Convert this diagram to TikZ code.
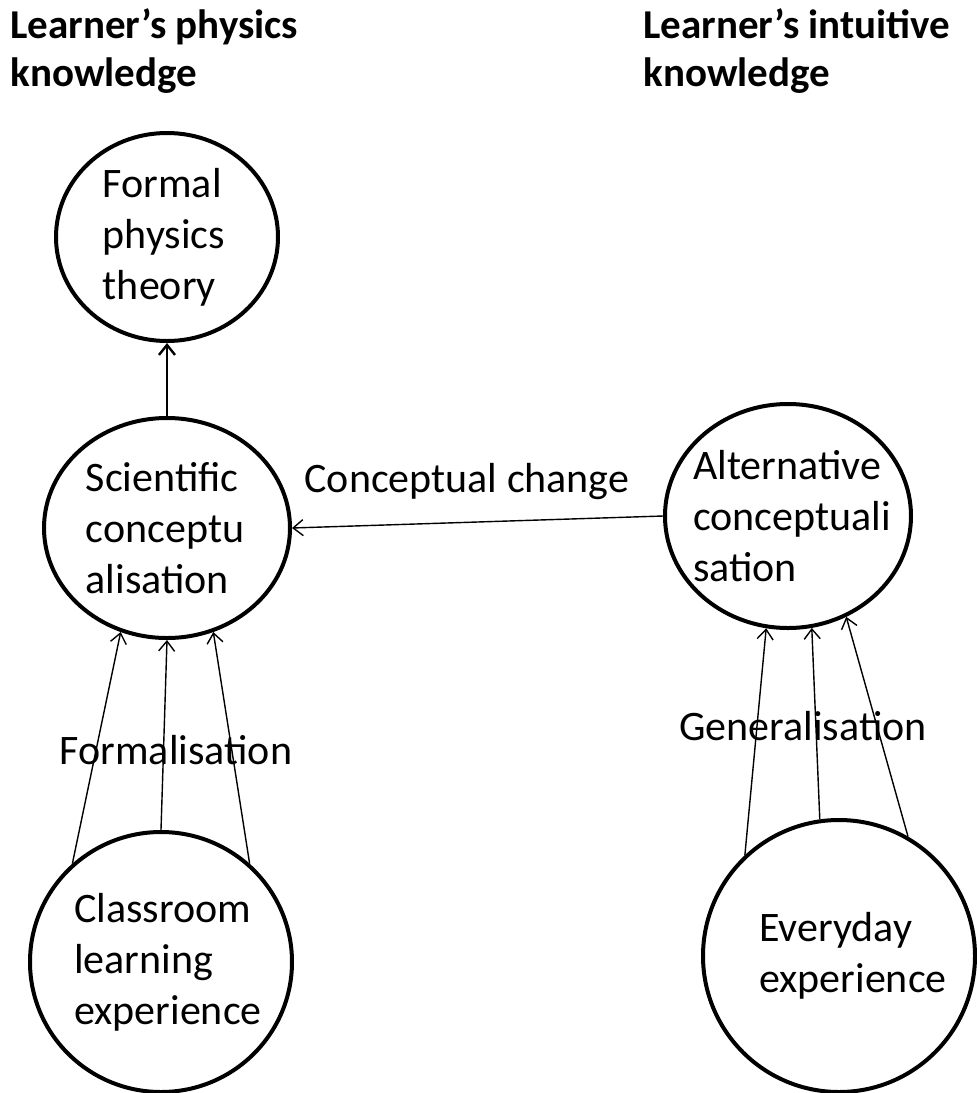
\documentclass[tikz,border=0pt]{standalone}
\usepackage{fontspec}
\setmainfont{Carlito}
\usetikzlibrary{shapes.geometric,arrows.meta}

\begin{document}
\begin{tikzpicture}[x=0.5pt,y=-0.5pt,
    >={Straight Barb[length=5pt,width=8pt]},
    bubble/.style={ellipse,draw,line width=2pt,inner sep=0pt},
    txt/.style={align=left,font=\fontsize{21}{25.5}\selectfont},
    title/.style={align=left,inner sep=0pt,font=\fontsize{20.5}{24}\selectfont\bfseries},
    link/.style={->,line width=0.7pt}]
	\useasboundingbox (0,0) rectangle (977,1093);

	% headings
	\node[title,anchor=base west] (headL) at (10,86) {Learner’s physics\\knowledge};
	\node[title,anchor=base west] (headR) at (643,86) {Learner’s intuitive\\knowledge};

	% physics side
	\node[bubble,minimum width=111pt,minimum height=104pt,label={[txt,name=formaltxt,xshift=-1.5pt]center:Formal\\physics\\theory}] (formal) at (167,237) {};
	\node[bubble,minimum width=123pt,minimum height=110pt,label={[txt,name=scitxt,xshift=-1pt]center:Scientific\\conceptu\\alisation}] (sci) at (167,528) {};
	\node[bubble,minimum width=131pt,minimum height=130pt,label={[txt,name=classtxt,xshift=3.5pt]center:Classroom\\learning\\experience}] (class) at (161,962) {};

	% intuitive side
	\node[bubble,minimum width=123pt,minimum height=112pt,label={[txt,name=alttxt,xshift=2pt]center:Alternative\\conceptuali\\sation}] (alt) at (788,516) {};
	\node[bubble,minimum width=136pt,minimum height=136pt,label={[txt,name=everytxt,xshift=7pt]center:Everyday\\experience}] (every) at (839,956) {};

	\draw[->,line width=1.2pt] (sci.north) -- (formal.south);
	\draw[link] (alt.180) -- (sci.east);

	\draw[link] (class.132) -- (sci.246);
	\draw[link] (class.90) -- (sci.270);
	\draw[link] (class.48) -- (sci.294);

	\draw[link] (every.133) -- (alt.259);
	\draw[link] (every.98) -- (alt.282);
	\draw[link] (every.60) -- (alt.300);

	\node[txt] (change) at (467,482) {Conceptual change};
	\node[txt] (formalis) at (176,750) {Formalisation};
	\node[txt] (general) at (803,726) {Generalisation};
\end{tikzpicture}
\end{document}
